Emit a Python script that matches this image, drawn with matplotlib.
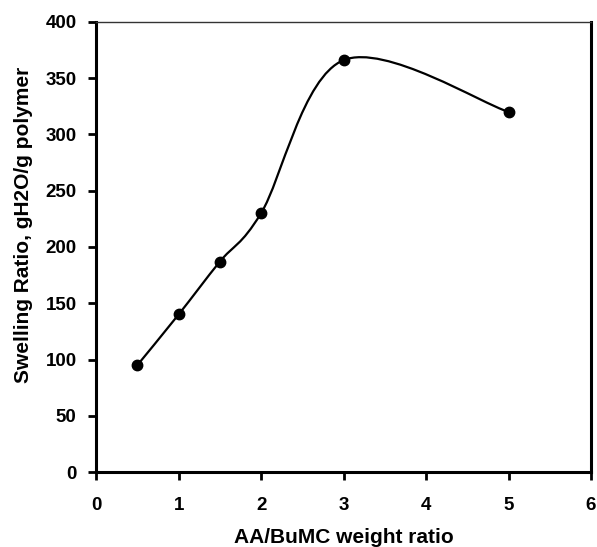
import numpy as np
import matplotlib.pyplot as plt
from matplotlib.path import Path
from matplotlib.patches import PathPatch

plt.rcParams["font.family"] = ["Liberation Sans", "DejaVu Sans"]
plt.rcParams["font.weight"] = "bold"

ratio = [0.5, 1.0, 1.5, 2.0, 3.0, 5.0]
swelling = [95, 140, 187, 230, 366, 320]
x_ticks = [0, 1, 2, 3, 4, 5, 6]
y_ticks = [0, 50, 100, 150, 200, 250, 300, 350, 400]


def smooth_path(xs, ys):
    # Excel-style smoothed line: cubic Bezier segments through each point
    pts = np.column_stack([xs, ys]).astype(float)
    n = len(pts)
    verts = [pts[0]]
    codes = [Path.MOVETO]
    for i in range(n - 1):
        p0 = pts[max(i - 1, 0)]
        p1 = pts[i]
        p2 = pts[i + 1]
        p3 = pts[min(i + 2, n - 1)]
        c1 = p1 + (p2 - p0) / 6.0
        c2 = p2 - (p3 - p1) / 6.0
        verts += [c1, c2, p2]
        codes += [Path.CURVE4] * 3
    return Path(verts, codes)


fig = plt.figure(figsize=(5.97, 5.47), dpi=100)
ax = fig.add_axes([0.161, 0.137, 0.829, 0.823])

ax.add_patch(PathPatch(smooth_path(ratio, swelling), facecolor="none",
                       edgecolor="black", linewidth=1.6))
ax.plot(ratio, swelling, linestyle="none", marker="o", markersize=7.5, color="black")

ax.set_xlim(0, 6)
ax.set_ylim(0, 400)
ax.set_xticks(x_ticks)
ax.set_yticks(y_ticks)
ax.tick_params(direction="out", length=6, width=2, labelsize=13.5)
ax.tick_params(axis="x", pad=12)
ax.tick_params(axis="y", pad=8)

for side in ("left", "bottom", "right"):
    ax.spines[side].set_linewidth(2.2)
ax.spines["top"].set_linewidth(1.0)
ax.spines["top"].set_color("#333333")

ax.set_xlabel("AA/BuMC weight ratio", fontsize=15, fontweight="bold", labelpad=10)
ax.set_ylabel("Swelling Ratio, gH2O/g polymer", fontsize=15, fontweight="bold")
ax.yaxis.set_label_coords(-0.128, 0.55)

fig.savefig("out.png", dpi=100)
